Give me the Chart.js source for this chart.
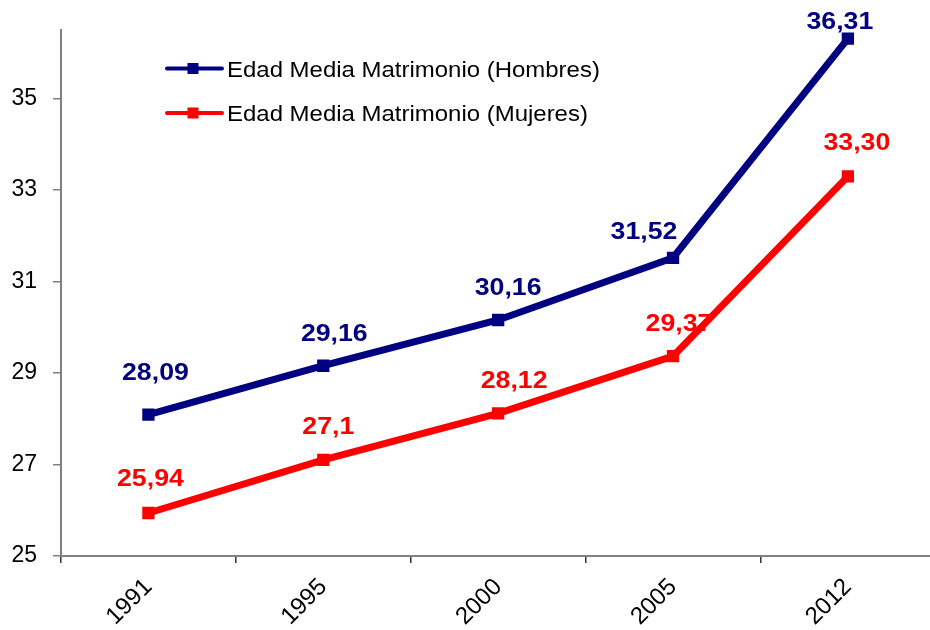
<!DOCTYPE html>
<html><head><meta charset="utf-8">
<script src="https://cdn.jsdelivr.net/npm/chart.js@4"></script>
<style>
html,body{margin:0;padding:0;background:#fff;overflow:hidden;}
#wrap{position:relative;width:930px;height:630px;overflow:hidden;}
</style></head><body>
<div id="wrap"><canvas id="c" width="944" height="630"></canvas></div>
<script>
const years = ['1991', '1995', '2000', '2005', '2012'];
const menValues = [28.09, 29.16, 30.16, 31.52, 36.31];
const womenValues = [25.94, 27.1, 28.12, 29.37, 33.30];
const menLabels = ['28,09', '29,16', '30,16', '31,52', '36,31'];
const womenLabels = ['25,94', '27,1', '28,12', '29,37', '33,30'];
const yTicks = [25, 27, 29, 31, 33, 35];
const seriesNames = ['Edad Media Matrimonio (Hombres)', 'Edad Media Matrimonio (Mujeres)'];

const FONT = '"Liberation Sans", Arial, Helvetica, sans-serif';
const NAVY = '#000080';
const RED = '#FF0000';

// label offsets (dx, dy of label centre relative to point) - layout only
const labelOffsets = [
  [[7,-43],[11,-33],[10,-34],[-29,-28],[-8,-18]],
  [[2,-36],[5,-35],[16,-34],[6,-34],[9,-35]]
];
const labelTexts = [menLabels, womenLabels];

const valueLabels = {
  id: 'valueLabels',
  beforeDatasetsDraw(chart) {
    const ctx = chart.ctx;
    const size = 24.5;
    chart.data.datasets.forEach((ds, i) => {
      const meta = chart.getDatasetMeta(i);
      meta.data.forEach((pt, j) => {
        const [dx, dy] = labelOffsets[i][j];
        ctx.save();
        ctx.translate(pt.x + dx, pt.y + dy + size * 0.716 / 2);
        ctx.scale(1.09, 1);
        ctx.font = 'bold ' + size + 'px ' + FONT;
        ctx.fillStyle = ds.borderColor;
        ctx.textAlign = 'center';
        ctx.textBaseline = 'alphabetic';
        ctx.fillText(labelTexts[i][j], 0, 0);
        ctx.restore();
      });
    });
  }
};

const customLegend = {
  id: 'customLegend',
  afterDraw(chart) {
    const ctx = chart.ctx;
    const a = chart.chartArea;
    chart.data.datasets.forEach((ds, i) => {
      const y = a.top + 38.5 + i * 44.5;
      const x0 = a.left + 106;
      ctx.save();
      ctx.strokeStyle = ds.borderColor;
      ctx.lineWidth = 4;
      ctx.lineCap = 'round';
      ctx.beginPath();
      ctx.moveTo(x0, y);
      ctx.lineTo(x0 + 55, y);
      ctx.stroke();
      ctx.fillStyle = ds.borderColor;
      ctx.fillRect(x0 + 26 - 5.5, y - 5.5, 11, 11);
      ctx.translate(x0 + 60, y + 8.2);
      ctx.scale(1.065, 1);
      ctx.font = '22.5px ' + FONT;
      ctx.fillStyle = '#000';
      ctx.textBaseline = 'alphabetic';
      ctx.fillText(ds.label, 0, 0);
      ctx.restore();
    });
  }
};

new Chart(document.getElementById('c'), {
  type: 'line',
  data: {
    labels: years,
    datasets: [
      {
        label: seriesNames[0], data: menValues,
        borderColor: NAVY, backgroundColor: NAVY,
        borderWidth: 7, pointStyle: 'rect', pointRadius: 8.7, pointBorderWidth: 0,
        pointBackgroundColor: NAVY, tension: 0, fill: false
      },
      {
        label: seriesNames[1], data: womenValues,
        borderColor: RED, backgroundColor: RED,
        borderWidth: 7, pointStyle: 'rect', pointRadius: 8.7, pointBorderWidth: 0,
        pointBackgroundColor: RED, tension: 0, fill: false
      }
    ]
  },
  options: {
    responsive: false,
    animation: false,
    layout: { padding: { top: 30, right: 0, left: 0, bottom: 0 } },
    plugins: { legend: { display: false }, tooltip: { enabled: false }, title: { display: false } },
    scales: {
      x: {
        type: 'category',
        offset: true,
        grid: { offset: true, drawOnChartArea: false, drawTicks: true, tickLength: 7, color: '#333', lineWidth: 1.5 },
        border: { display: true, color: '#808080', width: 2 },
        ticks: { font: { family: FONT, size: 24 }, color: '#000', minRotation: 45, maxRotation: 45, padding: 10, autoSkip: false },
        afterFit(s) { s.height = 74; }
      },
      y: {
        min: 25, max: 36.5,
        grid: { drawOnChartArea: false, drawTicks: true, tickLength: 8, color: '#808080', lineWidth: 1.5 },
        border: { display: true, color: '#808080', width: 2 },
        ticks: { font: { family: FONT, size: 23 }, color: '#000', padding: 16 },
        afterBuildTicks(s) { s.ticks = yTicks.map(v => ({ value: v })); },
        afterFit(s) { s.width = 61; }
      }
    }
  },
  plugins: [valueLabels, customLegend]
});
</script>
</body></html>
